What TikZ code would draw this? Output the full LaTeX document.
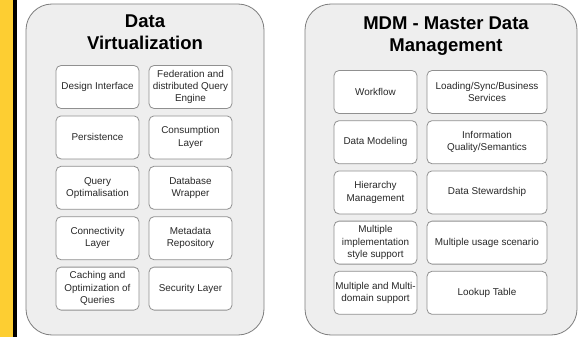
\documentclass[tikz,border=0pt]{standalone}
\usepackage{fontspec}
\setmainfont{Liberation Sans}
\usepackage{xcolor}
\definecolor{amarillo}{RGB}{253, 206, 50}
\definecolor{fondo}{RGB}{238, 238, 238}
\definecolor{borde}{RGB}{125, 125, 125}
\definecolor{texto}{RGB}{40, 40, 40}
\usepackage{tikz}
\usetikzlibrary{positioning}

\tikzset{
  grupo/.style={draw=borde, fill=fondo, line width=0.8pt, rounded corners=26pt},
  titulo/.style={align=center, font=\fontsize{18.5}{22}\selectfont\bfseries, text=black},
  caja/.style={draw=borde!85, fill=white, line width=0.8pt, rounded corners=5pt,
    minimum height=43pt, align=center, inner sep=1pt,
    font=\fontsize{9.9}{12.4}\selectfont, text=texto},
}

\begin{document}
\begin{tikzpicture}[x=1pt, y=-1pt]
  \useasboundingbox (0,0) rectangle (584,337);

  % Barra lateral
  \fill[amarillo] (0,0) rectangle (13,337);
  \fill[black] (13,0) rectangle (17,337);

  % Grupo 1: Data Virtualization
  \draw[grupo] (26,4) rectangle (264,335);
  \node[titulo] (dv) at (145,32.5) {Data\\Virtualization};

  \foreach \texto [count=\i] in {Design Interface, Persistence, Query\\Optimalisation,
      Connectivity\\Layer, Caching and\\Optimization of\\Queries} {
    \node[caja, minimum width=83pt] (dv-a\i) at (97.5,{87+50.4*(\i-1)}) {\texto};
  }
  \foreach \texto [count=\i] in {Federation and\\distributed Query\\Engine, Consumption\\Layer,
      Database\\Wrapper, Metadata\\Repository, Security Layer} {
    \node[caja, minimum width=83pt] (dv-b\i) at (190.5,{87+50.4*(\i-1)}) {\texto};
  }

  % Grupo 2: MDM
  \draw[grupo] (305,4) rectangle (577,335);
  \node[titulo] (mdm) at (446,36.5) {MDM - Master Data\\Management};

  \foreach \texto [count=\i] in {Workflow, Data Modeling, Hierarchy\\Management,
      Multiple\\implementation\\style support, Multiple and Multi-\\domain support} {
    \node[caja, minimum width=83pt] (mdm-a\i) at (375.5,{92+50.2*(\i-1)}) {\texto};
  }
  \foreach \texto [count=\i] in {Loading/Sync/Business\\Services, Information\\Quality/Semantics,
      Data Stewardship, Multiple usage scenario, Lookup Table} {
    \node[caja, minimum width=120pt] (mdm-b\i) at (487,{92+50.2*(\i-1)}) {\texto};
  }
\end{tikzpicture}
\end{document}
